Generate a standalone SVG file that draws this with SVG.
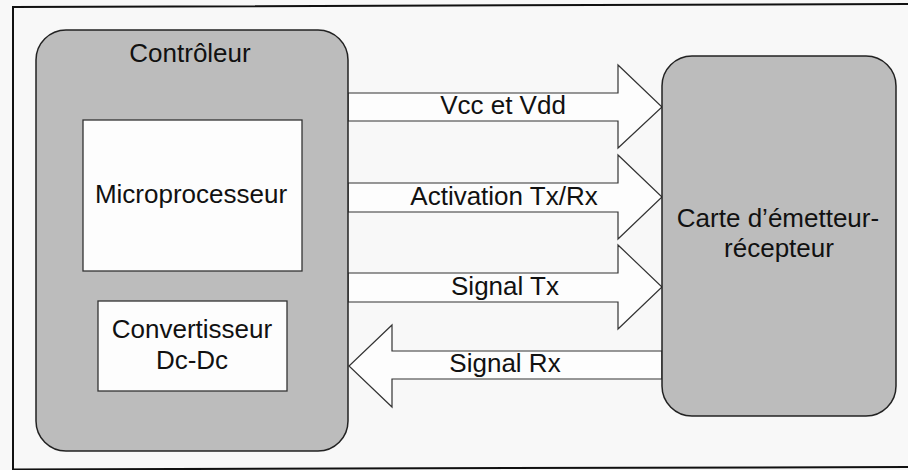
<svg xmlns="http://www.w3.org/2000/svg" width="908" height="470" viewBox="0 0 908 470">
<style>
text{font-family:"Liberation Sans",Arial,sans-serif;font-size:26px;fill:#111;text-anchor:middle}
.block{fill:#bcbcbc;stroke:#222;stroke-width:1.5}
.inner{fill:#fdfdfd;stroke:#333;stroke-width:1.3}
.arrow{fill:#fdfdfd;stroke:#333;stroke-width:1.2;stroke-linejoin:miter}
.frame{fill:none;stroke:#111;stroke-width:2}
</style>
<rect width="908" height="470" fill="#f8f8f8"/>
<path class="frame" d="M908,4 L13,7 L13,470 M13,469.5 L908,467"/>
<g id="connectors">
<g id="vcc"><polygon class="arrow" points="348,93 618,93 618,65 662,107 618,148 618,121 348,121"/><text x="503" y="114">Vcc et Vdd</text></g>
<g id="activation"><polygon class="arrow" points="348,183 618,183 618,155 662,197 618,239 618,212 348,212"/><text x="504" y="205">Activation Tx/Rx</text></g>
<g id="signaltx"><polygon class="arrow" points="348,273 618,273 618,245 662,287 618,329 618,302 348,302"/><text x="505" y="295">Signal Tx</text></g>
<g id="signalrx"><polygon class="arrow" points="662,351 392,351 392,325 349,366 392,407 392,379 662,379"/><text x="505" y="372">Signal Rx</text></g>
</g>
<g id="controleur">
<rect class="block" x="36" y="30" width="312" height="421" rx="30" ry="30"/>
<text x="190" y="62">Contrôleur</text>
</g>
<g id="microprocesseur">
<rect class="inner" x="83" y="120" width="219" height="151"/>
<text x="191" y="203">Microprocesseur</text>
</g>
<g id="convertisseur">
<rect class="inner" x="98" y="301" width="189" height="90"/>
<text x="192" y="338">Convertisseur</text>
<text x="192" y="369">Dc-Dc</text>
</g>
<g id="carte">
<rect class="block" x="662" y="56" width="234" height="360" rx="30" ry="30"/>
<text x="778" y="227">Carte d’émetteur-</text>
<text x="779" y="257">récepteur</text>
</g>
</svg>
